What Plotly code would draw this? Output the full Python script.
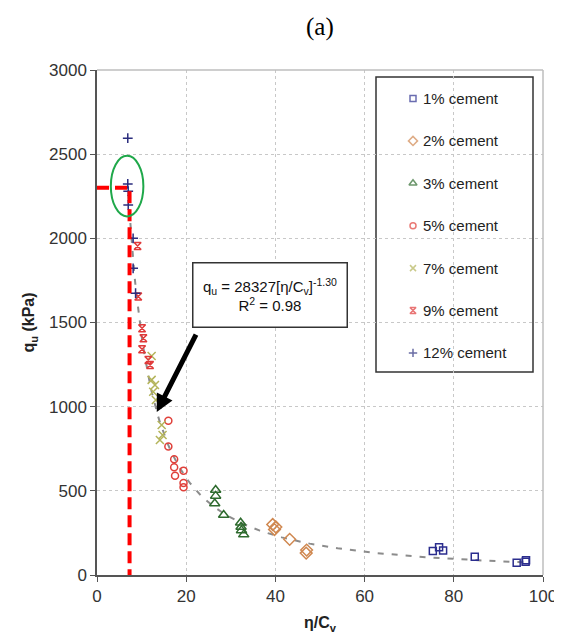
import plotly.graph_objects as go

# ---------------- data ----------------
series_names = ["1% cement", "2% cement", "3% cement", "5% cement",
                "7% cement", "9% cement", "12% cement"]

x_1 = [75.3, 76.7, 77.6, 84.7, 94.1, 96.1, 96.2]
y_1 = [143, 165, 145, 109, 73, 79, 88]

x_2 = [39.4, 39.8, 40.1, 43.2, 46.9, 47.0]
y_2 = [300, 270, 285, 212, 130, 148]

x_3 = [26.6, 26.6, 26.4, 28.4, 32.2, 32.3, 32.4, 32.9]
y_3 = [505, 470, 425, 356, 310, 285, 265, 240]

x_5 = [16.0, 16.0, 17.3, 17.3, 17.5, 19.4, 19.4, 19.4]
y_5 = [917, 764, 687, 640, 590, 620, 547, 521]

x_7 = [12.25, 12.25, 13.0, 12.6, 13.2, 14.5, 14.7, 14.1]
y_7 = [1301, 1159, 1129, 1089, 1040, 891, 832, 802]

x_9 = [9.1, 9.25, 10.1, 10.4, 10.1, 11.5, 11.9]
y_9 = [1955, 1655, 1466, 1406, 1341, 1277, 1248]

x_12 = [6.9, 6.9, 7.0, 7.0, 8.1, 8.1, 8.65]
y_12 = [2595, 2323, 2280, 2198, 2000, 1822, 1674]

# fitted power law q_u = A * (eta/Cv)^B
fit_A = 28327
fit_B = -1.30
fit_x_min, fit_x_max = 7.0, 96.0

# highlighted limit
limit_x = 7.3
limit_y = 2300

x_ticks = [0, 20, 40, 60, 80, 100]
y_ticks = [0, 500, 1000, 1500, 2000, 2500, 3000]

# ---------------- styles ----------------
styles = [
    dict(symbol="square-open", color="#2B2D8E", size=7),
    dict(symbol="diamond-open", color="#D08850", size=9),
    dict(symbol="triangle-up-open", color="#2E6B2E", size=9),
    dict(symbol="circle-open", color="#E0403A", size=7),
    dict(symbol="x-thin-open", color="#B4B45A", size=8),
    dict(symbol="hourglass-open", color="#E03A3A", size=7),
    dict(symbol="cross-thin-open", color="#2B2D7E", size=7),
]
xs = [x_1, x_2, x_3, x_5, x_7, x_9, x_12]
ys = [y_1, y_2, y_3, y_5, y_7, y_9, y_12]

fig = go.Figure()

# trend line
n = 200
tx = [fit_x_min + (fit_x_max - fit_x_min) * i / (n - 1) for i in range(n)]
ty = [fit_A * v ** fit_B for v in tx]
fig.add_trace(go.Scatter(x=tx, y=ty, mode="lines",
                         line=dict(color="#8C8C8C", width=2, dash="6px,8px"),
                         showlegend=False, hoverinfo="skip"))

for name, sx, sy, st in zip(series_names, xs, ys, styles):
    fig.add_trace(go.Scatter(
        x=sx, y=sy, mode="markers", name=name, showlegend=False,
        marker=dict(symbol=st["symbol"], size=st["size"], color=st["color"],
                    line=dict(color=st["color"], width=1.5))))

# red dashed limit lines
fig.add_trace(go.Scatter(x=[0, limit_x, limit_x], y=[limit_y, limit_y, 0],
                         mode="lines", line=dict(color="#FF0000", width=4, dash="12px,6px"),
                         showlegend=False, hoverinfo="skip"))

# manual legend on a pixel-space overlay axis (coordinates = window pixels)
L_left, L_right, L_top, L_bottom = 376, 533, 77, 372
leg_y0, leg_dy = 98.5, 42.4
leg_mx, leg_tx = 413, 421
fig.add_trace(go.Scatter(
    x=[leg_mx] * 7, y=[leg_y0 + i * leg_dy for i in range(7)],
    mode="markers", xaxis="x2", yaxis="y2", showlegend=False, hoverinfo="skip",
    marker=dict(symbol=[s["symbol"] for s in styles],
                size=[6, 7, 7, 6, 6, 6, 6],
                color=[s["color"] for s in styles],
                line=dict(color=[s["color"] for s in styles], width=1.5))))

annotations = []
for i, name in enumerate(series_names):
    annotations.append(dict(x=leg_tx, y=leg_y0 + i * leg_dy, xref="x2", yref="y2",
                            text=name, showarrow=False, xanchor="left", yanchor="middle",
                            font=dict(family="Liberation Sans, Arial", size=15, color="#222")))

# equation box
annotations.append(dict(x=0.3868, y=0.5554, xref="paper", yref="paper",
                        text="q<sub>u</sub> = 28327[η/C<sub>v</sub>]<sup>-1.30</sup><br>R<sup>2</sup> = 0.98",
                        showarrow=False, xanchor="center", yanchor="middle",
                        width=151, height=61, bgcolor="white",
                        bordercolor="#333333", borderwidth=1.5,
                        font=dict(family="Liberation Sans, Arial", size=15, color="#111")))
# arrow
annotations.append(dict(x=13.4, y=968, xref="x", yref="y", ax=40, ay=-79,
                        text="", showarrow=True, arrowhead=2, arrowsize=0.7,
                        arrowwidth=5, arrowcolor="black"))
# title
annotations.append(dict(x=0.5, y=(575 - 27) / 505, xref="paper", yref="paper", text="(a)",
                        showarrow=False, yanchor="middle",
                        font=dict(family="Liberation Serif, Times New Roman",
                                  size=25, color="black")))

shapes = [
    # frame top/right
    dict(type="line", xref="paper", yref="paper", x0=0, x1=1, y0=1, y1=1,
         line=dict(color="#BEBEBE", width=1.5)),
    dict(type="line", xref="paper", yref="paper", x0=1, x1=1, y0=0, y1=1,
         line=dict(color="#BEBEBE", width=1.5)),
    # green ellipse
    dict(type="circle", xref="x", yref="y", x0=3.1, x1=10.4, y0=2130, y1=2490,
         line=dict(color="#1FA84A", width=2)),
    # legend box
    dict(type="rect", xref="x2", yref="y2", x0=L_left, x1=L_right, y0=L_top, y1=L_bottom,
         line=dict(color="#333333", width=1.5), fillcolor="rgba(0,0,0,0)", layer="below"),
]

fig.update_layout(
    width=554, height=632, autosize=False,
    margin=dict(l=89, r=19, t=62, b=65, autoexpand=False),
    paper_bgcolor="white", plot_bgcolor="white",
    font=dict(family="Liberation Sans, Arial", color="#333"),
    xaxis=dict(range=[0, 100], tickvals=x_ticks, showgrid=True, gridcolor="#C8C8C8",
               griddash="dot", gridwidth=1, zeroline=False, showline=True, automargin=False,
               linecolor="#555", linewidth=1.5, ticks="outside", ticklen=5,
               tickcolor="#555", tickfont=dict(size=17, color="#333"),
               title=dict(text="<b>η/C<sub>v</sub></b>", font=dict(size=16, color="#222"),
                          standoff=12)),
    yaxis=dict(range=[0, 3000], tickvals=y_ticks, showgrid=True, gridcolor="#C8C8C8",
               griddash="dot", gridwidth=1, zeroline=False, showline=True, automargin=False,
               linecolor="#555", linewidth=1.5, ticks="outside", ticklen=5,
               tickcolor="#555", tickfont=dict(size=17, color="#333"),
               title=dict(text="<b>q<sub>u</sub> (kPa)</b>", font=dict(size=16, color="#222"),
                          standoff=10)),
    xaxis2=dict(domain=[0, 1], range=[97, 543], overlaying="x", visible=False,
                fixedrange=True, automargin=False),
    yaxis2=dict(domain=[0, 1], range=[575, 70], overlaying="y", visible=False,
                fixedrange=True, automargin=False),
    annotations=annotations,
    shapes=shapes,
    showlegend=False,
)

fig.write_html("out.html")
